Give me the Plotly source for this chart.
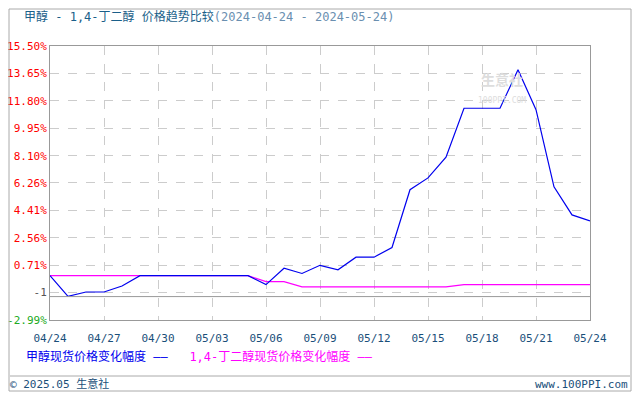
import pandas as pd
import plotly.graph_objects as go

dates = pd.date_range('2024-04-24', '2024-05-24')
methanol = [0, -1.4, -1.1, -1.1, -0.7, 0, 0, 0, 0, 0, 0, 0, -0.6, 0.5, 0.15, 0.7, 0.4,
            1.25, 1.25, 1.9, 5.8, 6.6, 8.0, 11.3, 11.3, 11.3, 13.9, 11.2, 6.0, 4.1, 3.7]
bdo = [0, 0, 0, 0, 0, 0, 0, 0, 0, 0, 0, 0, -0.4, -0.4, -0.75, -0.75, -0.75, -0.75, -0.75,
       -0.75, -0.75, -0.75, -0.75, -0.6, -0.6, -0.6, -0.6, -0.6, -0.6, -0.6, -0.6]
y_ticks = [15.50, 13.65, 11.80, 9.95, 8.10, 6.26, 4.41, 2.56, 0.71, -1.14, -2.99]
y_labels = ['15.50%', '13.65%', '11.80%', '9.95%', '8.10%', '6.26%', '4.41%', '2.56%', '0.71%', '-1', '-2.99%']
x_ticks = dates[::3]

# colour each y tick label
colored = []
for v, lbl in zip(y_ticks, y_labels):
    c = 'red' if v > 0 else ('#555555' if lbl == '-1' else '#22aa22')
    colored.append(f'<span style="color:{c}">{lbl}</span>')

fig = go.Figure()
fig.add_trace(go.Scatter(x=dates, y=bdo, mode='lines', line=dict(color='#ff00ff', width=1.2)))
fig.add_trace(go.Scatter(x=dates, y=methanol, mode='lines', line=dict(color='#0000ee', width=1.2)))
fig.add_hline(y=-1.41, line=dict(color='#999999', width=1))

# the page has an 8px body margin, so the figure is 632x392 and shifted by 8px
fig.update_layout(
    width=632, height=392, showlegend=False, autosize=False,
    margin=dict(l=42, r=50, t=38, b=80),
    paper_bgcolor='white', plot_bgcolor='white',
    font=dict(family='DejaVu Sans Mono, Noto Sans CJK SC', size=11),
    xaxis=dict(range=[dates[0], dates[-1]], tickvals=x_ticks, automargin=False,
               ticktext=[d.strftime('%m/%d') for d in x_ticks],
               tickfont=dict(color='#1a4f7a', size=11), showgrid=True,
               gridcolor='#cccccc', griddash='dash', showline=True, linecolor='#999999',
               mirror=True, ticks='outside', ticklen=8, tickcolor='rgba(0,0,0,0)'),
    yaxis=dict(range=[-2.99, 15.50], tickvals=y_ticks, ticktext=colored, automargin=False,
               tickfont=dict(size=11), showgrid=True, gridcolor='#cccccc',
               griddash='dash', showline=True, linecolor='#999999', mirror=True,
               zeroline=False, ticks='outside', ticklen=0),
)

# image pixel coords -> paper coords
def px(x, y):
    return (x - 50) / 540, (320 - y) / 274

ax, ay = px(22, 16)
fig.add_annotation(x=ax, y=ay, xanchor='left', yanchor='middle',
                   text='<span style="color:#1a5f8a">甲醇 - 1,4-丁二醇 价格趋势比较</span>'
                   '<span style="color:#6a8fb0">(2024-04-24 - 2024-05-24)</span>',
                   showarrow=False, font=dict(size=12))
ax, ay = px(24, 356)
fig.add_annotation(x=ax, y=ay, xanchor='left', yanchor='middle',
                   text='<span style="color:#0000ee">甲醇现货价格变化幅度 ——</span>   '
                   '<span style="color:#ff00ff">1,4-丁二醇现货价格变化幅度 ——</span>',
                   showarrow=False, font=dict(size=12))
ax, ay = px(8, 384)
fig.add_annotation(x=ax, y=ay, xanchor='left', yanchor='middle', text='© 2025.05 生意社',
                   showarrow=False, font=dict(size=11, color='#1a4f7a'))
ax, ay = px(630, 384)
fig.add_annotation(x=ax, y=ay, xanchor='right', yanchor='middle', text='www.100PPI.com',
                   showarrow=False, font=dict(size=11, color='#1a4f7a'))
ax, ay = px(528, 70)
fig.add_annotation(x=ax, y=ay, text='<b>生意社</b><br><span style="font-size:8px">100PPI.COM</span>',
                   showarrow=False, font=dict(size=14, color='#dddddd'))
fig.update_annotations(xref='paper', yref='paper')

x0, y0 = px(10, 376)
x1, _ = px(630, 376)
fig.add_shape(type='line', xref='paper', yref='paper', x0=x0, x1=x1, y0=y0, y1=y0,
              line=dict(color='#aaaaaa', width=1))
x0, y0 = px(9, 391)
x1, y1 = px(631, 9)
fig.add_shape(type='rect', xref='paper', yref='paper', x0=x0, x1=x1, y0=y0, y1=y1,
              line=dict(color='#aaaaaa', width=1))

fig.write_html('out.html')
